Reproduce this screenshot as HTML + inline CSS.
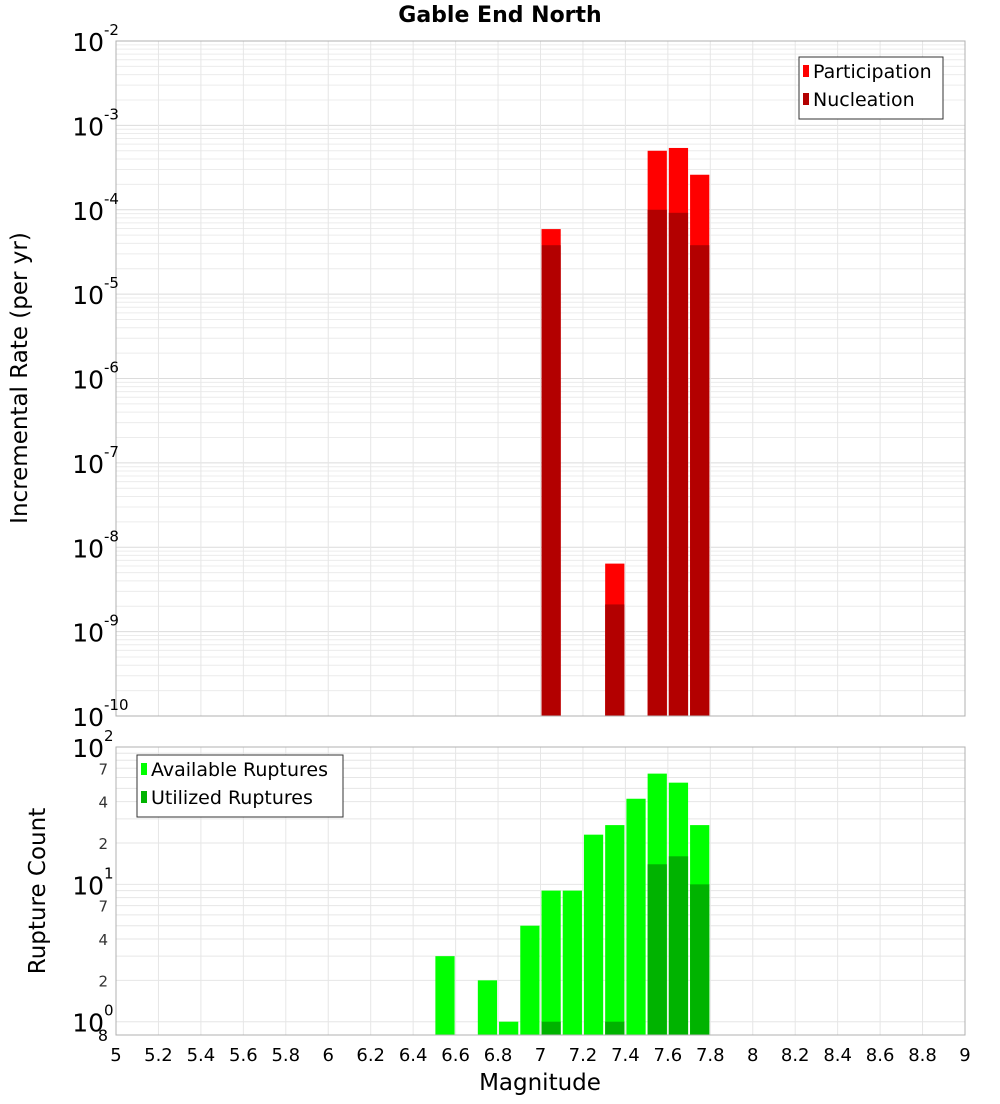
<!DOCTYPE html>
<html><head><meta charset="utf-8"><style>
body{margin:0;background:#fff;font-family:"DejaVu Sans","Liberation Sans",sans-serif}
svg text{font-family:"DejaVu Sans","Liberation Sans",sans-serif}
</style></head><body>
<svg id="c" width="1000" height="1100" xmlns="http://www.w3.org/2000/svg">
<text x="500" y="22" text-anchor="middle" font-size="22" font-weight="bold">Gable End North</text>
<text transform="translate(27,378) rotate(-90)" text-anchor="middle" font-size="23">Incremental Rate (per yr)</text>
<text transform="translate(45,891) rotate(-90)" text-anchor="middle" font-size="23">Rupture Count</text>
<text x="540" y="1090" text-anchor="middle" font-size="23">Magnitude</text>
<g id="g"></g>
</svg>
<script>
const bins=[7.05,7.35,7.55,7.65,7.75];
const participation=[5.9e-5,6.4e-9,5.0e-4,5.4e-4,2.6e-4];
const nucleation=[3.8e-5,2.1e-9,1.0e-4,9.2e-5,3.8e-5];
const cntBins=[6.55,6.75,6.85,6.95,7.05,7.15,7.25,7.35,7.45,7.55,7.65,7.75];
const available=[3,2,1,5,9,9,23,27,42,64,55,27];
const utilBins=[7.05,7.35,7.55,7.65,7.75];
const utilized=[1,1,14,16,10];
const xTicks=[5,5.2,5.4,5.6,5.8,6,6.2,6.4,6.6,6.8,7,7.2,7.4,7.6,7.8,8,8.2,8.4,8.6,8.8,9];
const topExps=[-10,-9,-8,-7,-6,-5,-4,-3,-2];
const botMinor=[2,4,7,20,40,70];

const NS="http://www.w3.org/2000/svg",G=document.getElementById('g');
function el(t,a,p){const e=document.createElementNS(NS,t);for(const k in a)e.setAttribute(k,a[k]);(p||G).appendChild(e);return e;}
const L=116,R=965;
const X=m=>L+(m-5)/4*(R-L);
const T0=41,T1=716,yT=v=>T1-(Math.log10(v)+10)/8*(T1-T0);
const B0=747,B1=1035,lo=Math.log10(0.8),yB=v=>B1-(Math.log10(v)-lo)/(2-lo)*(B1-B0);

for(let e=-10;e<-2;e++)for(let k=1;k<10;k++){const y=yT(k*Math.pow(10,e));const l=el('line',{x1:L,x2:R,y1:y,y2:y,stroke:k==1?'#dcdcdc':'#ececec','stroke-width':1});
}
for(let e=0;e<2;e++)for(let k=1;k<10;k++){const v=k*Math.pow(10,e);if(v<0.8)continue;const y=yB(v);const l=el('line',{x1:L,x2:R,y1:y,y2:y,stroke:'#e6e6e6','stroke-width':1});
}
xTicks.forEach(t=>{[[T0,T1],[B0,B1]].forEach(r=>{const l=el('line',{x1:X(t),x2:X(t),y1:r[0],y2:r[1],stroke:'#e6e6e6'});
});});

function bar(m,v,yf,base,col,name){const x=X(m-0.05)+1,w=X(m+0.05)-X(m-0.05)-2;const y=yf(v);const r=el('rect',{x:x,y:y,width:w,height:base-y,fill:col});
}
bins.forEach((m,i)=>bar(m,participation[i],yT,T1,'#ff0000','participation-bar'));
bins.forEach((m,i)=>bar(m,nucleation[i],yT,T1,'#b30000','nucleation-bar'));
cntBins.forEach((m,i)=>bar(m,available[i],yB,B1,'#00ff00','available-bar'));
utilBins.forEach((m,i)=>bar(m,utilized[i],yB,B1,'#00b300','utilized-bar'));

[[T0,T1,'top-plot-frame'],[B0,B1,'bottom-plot-frame']].forEach(f=>{const r=el('rect',{x:L,y:f[0],width:R-L,height:f[1]-f[0],fill:'none',stroke:'#b0b0b0'});
});

topExps.forEach(e=>{const y=yT(Math.pow(10,e));const t=el('text',{x:104,y:y+10,'text-anchor':'end','font-size':25});
t.textContent='10';
const s=el('text',{x:104,y:y-6,'font-size':15});s.textContent=String(e);});
[0,1,2].forEach(e=>{const y=yB(Math.pow(10,e));const t=el('text',{x:104,y:y+10,'text-anchor':'end','font-size':25});
t.textContent='10';
const s=el('text',{x:104,y:y-6,'font-size':15});s.textContent=String(e);});
botMinor.forEach(v=>{const y=yB(v);const t=el('text',{x:108,y:y+6,'text-anchor':'end','font-size':15,fill:'#333'});
t.textContent=String(v).charAt(0);});
{const t=el('text',{x:108,y:1041,'text-anchor':'end','font-size':16});t.textContent='8';}
xTicks.forEach(v=>{const t=el('text',{x:X(v),y:1061,'text-anchor':'middle','font-size':18});
t.textContent=String(v);});

function legend(x,y,w,items,name){const g=el('g',{});
el('rect',{x:x,y:y,width:w,height:items.length*28+6,fill:'#fff',stroke:'#333'},g);
items.forEach((it,i)=>{const yy=y+15+i*28;el('rect',{x:x+4,y:yy-7,width:6,height:12,fill:it[1]},g);
const t=el('text',{x:x+14,y:yy+6,'font-size':19},g);t.textContent=it[0];});}
legend(799,57,144,[['Participation','#ff0000'],['Nucleation','#b30000']],'top-legend');
legend(137,755,206,[['Available Ruptures','#00ff00'],['Utilized Ruptures','#00b300']],'bottom-legend');
</script>
</body></html>
